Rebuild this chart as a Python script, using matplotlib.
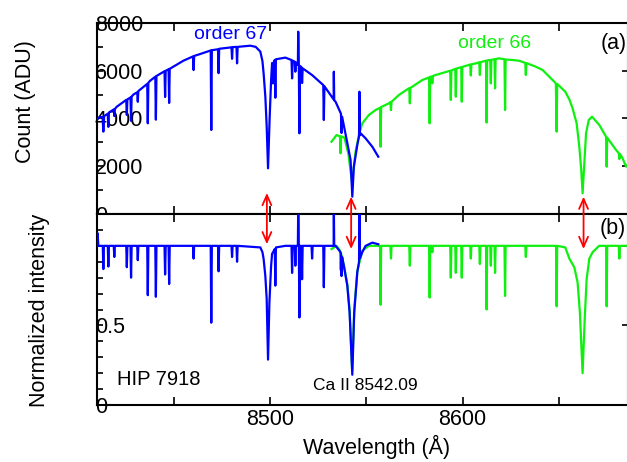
#!/usr/bin/env python3

import numpy as np
import matplotlib
matplotlib.use("Agg")
import matplotlib.pyplot as plt
from matplotlib.patches import ConnectionPatch
from matplotlib.ticker import MultipleLocator

plt.rcParams["font.family"] = ["Liberation Sans", "DejaVu Sans"]

#- order 67, raw counts (ADU)
wl_o67 = [8410.0, 8411.6, 8412.9, 8413.3, 8413.7, 8415.6, 8415.9, 8416.2, 8418.7, 8419.0,
          8419.3, 8420.3, 8425.2, 8425.5, 8425.8, 8427.4, 8427.7, 8428.0, 8428.9, 8430.9,
          8431.2, 8431.5, 8436.1, 8436.4, 8436.7, 8437.6, 8440.3, 8440.6, 8440.9, 8445.1,
          8445.4, 8445.7, 8447.2, 8447.5, 8447.8, 8454.9, 8459.9, 8460.2, 8460.5, 8463.6,
          8469.1, 8469.4, 8469.7, 8472.9, 8473.2, 8473.5, 8479.9, 8480.2, 8480.5, 8482.5,
          8482.8, 8483.1, 8489.7, 8492.5, 8494.9, 8496.0, 8496.6, 8497.5, 8498.2, 8498.9,
          8499.7, 8500.5, 8501.0, 8501.5, 8502.0, 8502.4, 8502.7, 8503.0, 8507.9, 8511.1,
          8511.4, 8511.7, 8512.8, 8513.1, 8513.4, 8514.4, 8514.6, 8514.9, 8515.2, 8515.5,
          8516.3, 8516.6, 8516.9, 8521.8, 8527.6, 8527.9, 8528.2, 8533.0, 8533.1, 8533.3,
          8534.0, 8536.8, 8537.1, 8537.4, 8540.1, 8541.8, 8542.7, 8543.5, 8545.3, 8546.2,
          8546.4, 8546.6, 8547.0, 8549.6, 8553.1, 8556.2]
cnt_o67 = [3950, 4075, 4050, 3450, 4100, 4200, 3650, 4250, 4380, 4100,
           4400, 4494, 4780, 4150, 4800, 4880, 3900, 4920, 5000, 5100,
           4700, 5150, 5450, 3800, 5500, 5580, 5750, 3950, 5780, 5980,
           4900, 6000, 6060, 4650, 6080, 6420, 6600, 6030, 6620, 6700,
           6850, 3520, 6860, 6900, 5900, 6920, 6980, 6500, 6990, 7000,
           6310, 7000, 7050, 7000, 6800, 6400, 5890, 4913, 3660, 1913,
           3937, 5612, 6324, 5470, 6400, 6450, 4870, 6480, 6550, 6450,
           5680, 6420, 6380, 5960, 6350, 6250, 7635, 6250, 3380, 6200,
           6150, 5486, 6100, 5820, 5400, 3937, 5350, 4800, 5960, 4760,
           4703, 4200, 3392, 4075, 2973, 2261, 725, 1981, 2890, 3250,
           5122, 3300, 3380, 3170, 2818, 2400]

#- order 66, raw counts (ADU)
wl_o66 = [8531.9, 8534.5, 8536.3, 8536.6, 8536.9, 8538.6, 8540.7, 8541.8, 8542.6, 8543.4,
          8544.4, 8546.1, 8547.9, 8551.3, 8554.8, 8557.1, 8557.4, 8557.7, 8561.7, 8562.5,
          8562.8, 8563.1, 8566.9, 8572.1, 8572.3, 8572.6, 8572.9, 8579.1, 8582.6, 8582.9,
          8583.2, 8584.0, 8584.3, 8584.6, 8586.0, 8593.6, 8593.9, 8594.2, 8596.2, 8596.5,
          8596.8, 8599.3, 8599.6, 8599.9, 8604.0, 8604.3, 8604.6, 8606.9, 8608.7, 8609.0,
          8609.3, 8612.2, 8612.5, 8612.8, 8613.8, 8614.4, 8614.7, 8615.0, 8616.6, 8616.9,
          8617.2, 8619.0, 8621.8, 8622.1, 8622.4, 8626.0, 8629.4, 8632.6, 8632.9, 8633.2,
          8638.1, 8641.6, 8645.1, 8648.5, 8648.9, 8649.2, 8653.4, 8655.5, 8657.2, 8659.3,
          8660.7, 8661.7, 8662.4, 8663.3, 8664.2, 8665.6, 8667.3, 8671.1, 8674.6, 8674.9,
          8675.2, 8679.8, 8681.2, 8681.5, 8681.8, 8683.2, 8685.0, 8686.0]
cnt_o66 = [3028, 3308, 3250, 2541, 3250, 3200, 2500, 1800, 1300, 1900,
           2600, 3300, 3798, 4146, 4355, 4450, 2818, 4480, 4634, 4690,
           4350, 4700, 4984, 5263, 5270, 4634, 5280, 5612, 5720, 3798,
           5740, 5760, 5472, 5780, 5821, 6000, 4774, 6010, 6080, 4913,
           6090, 6150, 4703, 6160, 6260, 5800, 6270, 6310, 6350, 5821,
           6360, 6420, 3830, 6430, 6450, 6450, 5472, 6460, 6480, 5263,
           6490, 6520, 6480, 4355, 6470, 6450, 6420, 6330, 5821, 6320,
           6170, 6031, 5750, 5472, 3448, 5450, 5122, 4800, 4425, 3798,
           2818, 1843, 866, 2122, 3380, 3937, 4075, 3727, 3237, 1981,
           3200, 2680, 2550, 2300, 2520, 2332, 1981, 2100]

#- normalized spectra
wl_n67 = [8410.0, 8410.3, 8410.7, 8413.0, 8413.3, 8413.6, 8415.6, 8415.9, 8416.2, 8418.7,
          8419.0, 8419.3, 8425.2, 8425.5, 8425.8, 8427.4, 8427.7, 8428.0, 8430.9, 8431.2,
          8431.5, 8436.1, 8436.4, 8436.7, 8440.3, 8440.6, 8440.9, 8445.1, 8445.4, 8445.7,
          8447.2, 8447.5, 8447.8, 8459.9, 8460.2, 8460.5, 8469.1, 8469.4, 8469.7, 8472.9,
          8473.2, 8473.5, 8479.9, 8480.2, 8480.5, 8482.5, 8482.8, 8483.1, 8494.9, 8496.0,
          8496.6, 8497.5, 8498.2, 8498.9, 8499.6, 8500.5, 8501.0, 8501.5, 8502.4, 8502.7,
          8503.0, 8507.9, 8511.1, 8511.4, 8511.7, 8512.8, 8513.1, 8513.4, 8514.4, 8514.6,
          8514.9, 8515.2, 8515.5, 8516.3, 8516.6, 8516.9, 8521.5, 8521.8, 8522.1, 8527.6,
          8527.9, 8528.2, 8533.0, 8533.1, 8533.3, 8534.0, 8536.6, 8536.8, 8537.1, 8537.4,
          8538.3, 8540.1, 8541.3, 8542.7, 8543.7, 8545.3, 8546.2, 8546.4, 8546.6, 8547.9,
          8549.6, 8553.1, 8556.2]
nrm_n67 = [1.00, 1.08, 1.00, 1.00, 0.854, 1.00, 1.00, 0.87, 1.00, 1.00,
           0.93, 1.00, 1.00, 0.866, 1.00, 1.00, 0.80, 1.00, 1.00, 0.91,
           1.00, 1.00, 0.69, 1.00, 1.00, 0.68, 1.00, 1.00, 0.82, 1.00,
           1.00, 0.76, 1.00, 1.00, 0.92, 1.00, 1.00, 0.517, 1.00, 1.00,
           0.84, 1.00, 1.00, 0.93, 1.00, 1.00, 0.90, 1.00, 0.99, 0.96,
           0.918, 0.81, 0.665, 0.285, 0.64, 0.875, 0.95, 0.96, 0.98, 0.75,
           0.99, 1.00, 1.00, 0.83, 1.00, 1.00, 0.875, 1.00, 1.00, 1.25,
           1.00, 0.55, 1.00, 1.00, 0.79, 1.00, 1.00, 0.92, 1.00, 1.00,
           0.74, 1.00, 1.00, 1.25, 1.00, 1.00, 0.96, 0.95, 0.81, 0.93,
           0.875, 0.75, 0.58, 0.19, 0.58, 0.835, 0.90, 1.25, 0.92, 0.96,
           1.00, 1.02, 1.01]

wl_n66 = [8531.9, 8534.5, 8536.3, 8536.6, 8536.9, 8538.3, 8540.1, 8541.3, 8542.6, 8543.7,
          8545.3, 8547.9, 8551.3, 8554.8, 8557.1, 8557.4, 8557.7, 8562.5, 8562.8, 8563.1,
          8572.3, 8572.6, 8572.9, 8582.6, 8582.9, 8583.2, 8584.0, 8584.3, 8584.6, 8593.6,
          8593.9, 8594.2, 8596.2, 8596.5, 8596.8, 8599.3, 8599.6, 8599.9, 8604.0, 8604.3,
          8604.6, 8608.7, 8609.0, 8609.3, 8612.2, 8612.5, 8612.8, 8614.4, 8614.7, 8615.0,
          8616.6, 8616.9, 8617.2, 8621.8, 8622.1, 8622.4, 8632.6, 8632.9, 8633.2, 8648.6,
          8648.9, 8649.2, 8653.4, 8655.5, 8658.1, 8659.8, 8661.0, 8662.4, 8663.5, 8664.5,
          8665.9, 8667.6, 8671.0, 8674.6, 8674.9, 8675.2, 8681.2, 8681.5, 8681.8, 8686.0]
nrm_n66 = [0.98, 1.00, 0.97, 0.85, 0.95, 0.88, 0.76, 0.60, 0.22, 0.60,
           0.84, 0.97, 1.00, 1.00, 1.00, 0.63, 1.00, 1.00, 0.92, 1.00,
           1.00, 0.875, 1.00, 1.00, 0.675, 1.00, 1.00, 0.96, 1.00, 1.00,
           0.80, 1.00, 1.00, 0.83, 1.00, 1.00, 0.80, 1.00, 1.00, 0.92,
           1.00, 1.00, 0.886, 1.00, 1.00, 0.60, 1.00, 1.00, 0.875, 1.00,
           1.00, 0.83, 1.00, 1.00, 0.685, 1.00, 1.00, 0.93, 1.00, 1.00,
           0.62, 1.00, 0.99, 0.92, 0.865, 0.77, 0.58, 0.20, 0.54, 0.79,
           0.92, 0.96, 1.00, 1.00, 0.62, 1.00, 1.00, 0.92, 1.00, 1.00]

#- Ca II triplet markers: wavelength, top of arrow (ADU), bottom of arrow (normalized)
ca_wl = [8498.3, 8542.1, 8662.9]
ca_top = [880, 725, 725]
ca_bot = [1.01, 0.98, 0.98]

blue = "#0000ff"
green = "#10f010"
fs = 15.5
lw = 1.6

fig = plt.figure(figsize=(6.27, 4.62), dpi=100)
W = 627.0
H = 462.0
axa = fig.add_axes([97/W, (H-214)/H, 531/W, 191/H])
axb = fig.add_axes([97/W, (H-405)/H, 531/W, 191/H])

axa.plot(wl_o66, cnt_o66, color=green, lw=lw, zorder=3)
axa.plot(wl_o67, cnt_o67, color=blue, lw=lw, zorder=4)
axb.plot(wl_n66, nrm_n66, color=green, lw=lw, zorder=3)
axb.plot(wl_n67, nrm_n67, color=blue, lw=lw, zorder=4)

for ax in [axa, axb]:
    ax.set_xlim(8410, 8686)
    ax.xaxis.set_major_locator(MultipleLocator(100))
    ax.xaxis.set_minor_locator(MultipleLocator(50))
    for s in ax.spines.values():
        s.set_linewidth(1.5)
    ax.tick_params(which="both", direction="in", top=True, right=True,
                   width=1.2, labelsize=fs)
    ax.tick_params(axis="x", which="both", length=5.5, pad=3)
    ax.tick_params(axis="y", which="major", length=4.5, pad=1.5)
    ax.tick_params(axis="y", which="minor", length=4.5, right=False)

axa.set_ylim(0, 8000)
axa.set_yticks([0, 2000, 4000, 6000, 8000])
axa.yaxis.set_minor_locator(MultipleLocator(1000))
axa.tick_params(axis="x", labelbottom=False)

axb.set_ylim(0, 1.2)
axb.set_yticks([0, 0.5, 1.0])
axb.set_yticklabels(["0", "0.5", ""])
axb.yaxis.set_minor_locator(MultipleLocator(0.1))

for ax in [axa, axb]:
    for t in ax.yaxis.get_major_ticks():
        t.label1.set_horizontalalignment("left")

# labels inside the frame
axa.text(8479.5, 7500, "order 67", color=blue, fontsize=14, ha="center", va="center")
axa.text(8616.8, 7160, "order 66", color=green, fontsize=14, ha="center", va="center")
axa.text(8678.5, 7160, "(a)", fontsize=fs, ha="center", va="center")
axb.text(8678.0, 1.108, "(b)", fontsize=fs, ha="center", va="center")
axb.text(8420.4, 0.158, "HIP 7918", fontsize=14.5, ha="left", va="center")
axb.text(8549.6, 0.12, "Ca II 8542.09", fontsize=12.5, ha="center", va="center")

fig.text(25/W, 1 - 102/H, "Count (ADU)", fontsize=fs, rotation=90, ha="center", va="center")
fig.text(40/W, 1 - 310/H, "Normalized intensity", fontsize=fs, rotation=90, ha="center", va="center")
fig.text(377/W, 1 - 447/H, "Wavelength (\u00c5)", fontsize=fs, ha="center", va="center")

for w, t, b in zip(ca_wl, ca_top, ca_bot):
    arr = ConnectionPatch(xyA=(w, t), coordsA=axa.transData,
                          xyB=(w, b), coordsB=axb.transData,
                          arrowstyle="<->,head_length=0.45,head_width=0.2",
                          mutation_scale=16, color="red", lw=1.3,
                          shrinkA=0, shrinkB=0)
    fig.add_artist(arr)

plt.savefig("out.png", dpi=100)
